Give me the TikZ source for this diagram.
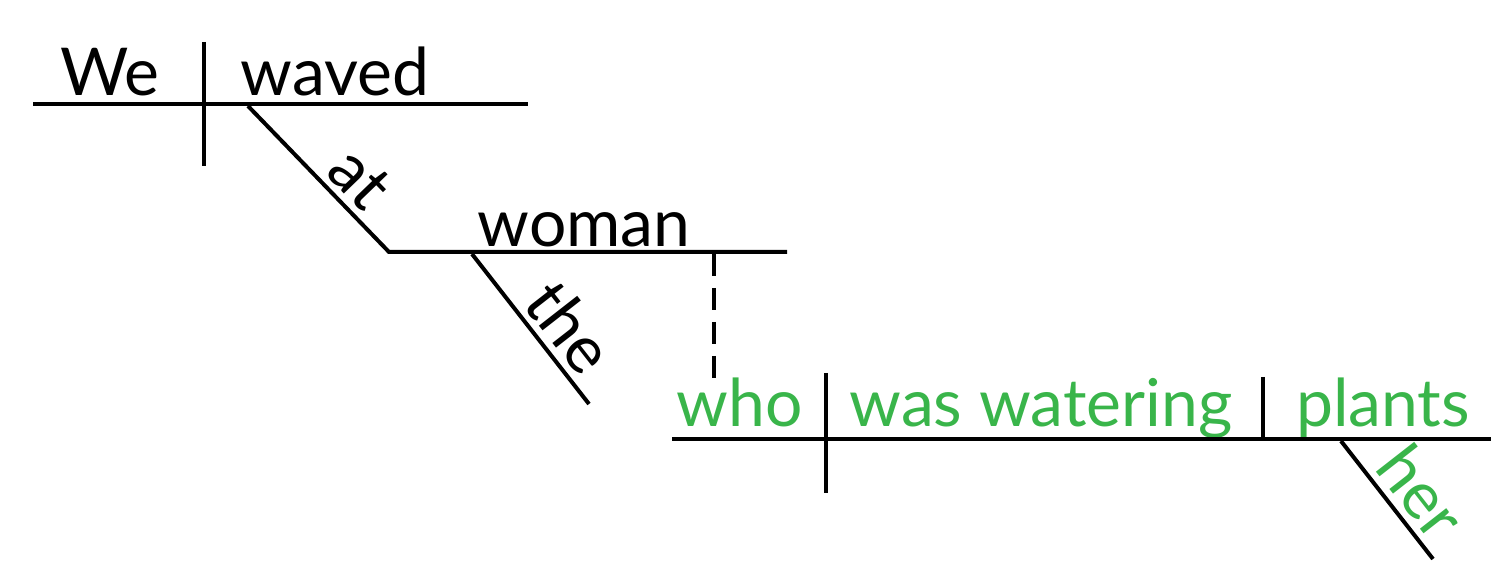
\documentclass[tikz,border=0pt]{standalone}
\usepackage{fontspec}
\setmainfont{Lato}
\usetikzlibrary{positioning}
\definecolor{clausegreen}{RGB}{57,181,74}

\begin{document}
\begin{tikzpicture}[x=0.5pt, y=-0.5pt,
    word/.style = {anchor=base, inner sep=0pt, font=\fontsize{33}{38}\selectfont},
    rel/.style = {word, text=clausegreen},
    rule/.style = {line width=2pt},
    slant/.style = {above, sloped, inner sep=3pt, font=\fontsize{33}{38}\selectfont}]
    \useasboundingbox (0,0) rectangle (1500,577);
    % main clause
    \coordinate (top L) at (33,104);
    \coordinate (top R) at (528,104);
    \coordinate (div1 T) at (204,42);
    \coordinate (div1 B) at (204,166);
    \node[word] (we) at (110,96) {We};
    \node[word] (waved) at (335,96) {waved};
    \coordinate (at T) at (248,106);
    \coordinate (at B) at (389,252);
    \coordinate (obj R) at (787,252);
    \node[word] (woman) at (584,247) {woman};
    \coordinate (the T) at (472,254);
    \coordinate (the B) at (589,404);
    \coordinate (link T) at (714,254);
    \coordinate (link B) at (714,379);
    \draw[rule] (top L) -- (top R);
    \draw[rule] (div1 T) -- (div1 B);
    \draw[rule] (at T) -- node[slant, pos=0.64] {at} (at B) -- (obj R);
    \draw[rule] (the T) -- node[slant, pos=0.62] {the} (the B);
    \draw[rule, dash pattern=on 11pt off 6pt] (link T) -- (link B);
    % relative clause
    \coordinate (low L) at (672,439);
    \coordinate (low R) at (1491,439);
    \coordinate (div2 T) at (826,373);
    \coordinate (div2 B) at (826,493);
    \coordinate (div3 T) at (1263,377);
    \coordinate (div3 B) at (1263,439);
    \node[rel] (who) at (740,426) {who};
    \node[rel] (verb) at (1041,426) {was watering};
    \node[rel] (plants) at (1383,426) {plants};
    \coordinate (her T) at (1341,441);
    \coordinate (her B) at (1433,559);
    \draw[rule] (low L) -- (low R);
    \draw[rule] (div2 T) -- (div2 B);
    \draw[rule] (div3 T) -- (div3 B);
    \draw[rule] (her T) -- node[slant, pos=0.6, text=clausegreen] {her} (her B);
\end{tikzpicture}
\end{document}
